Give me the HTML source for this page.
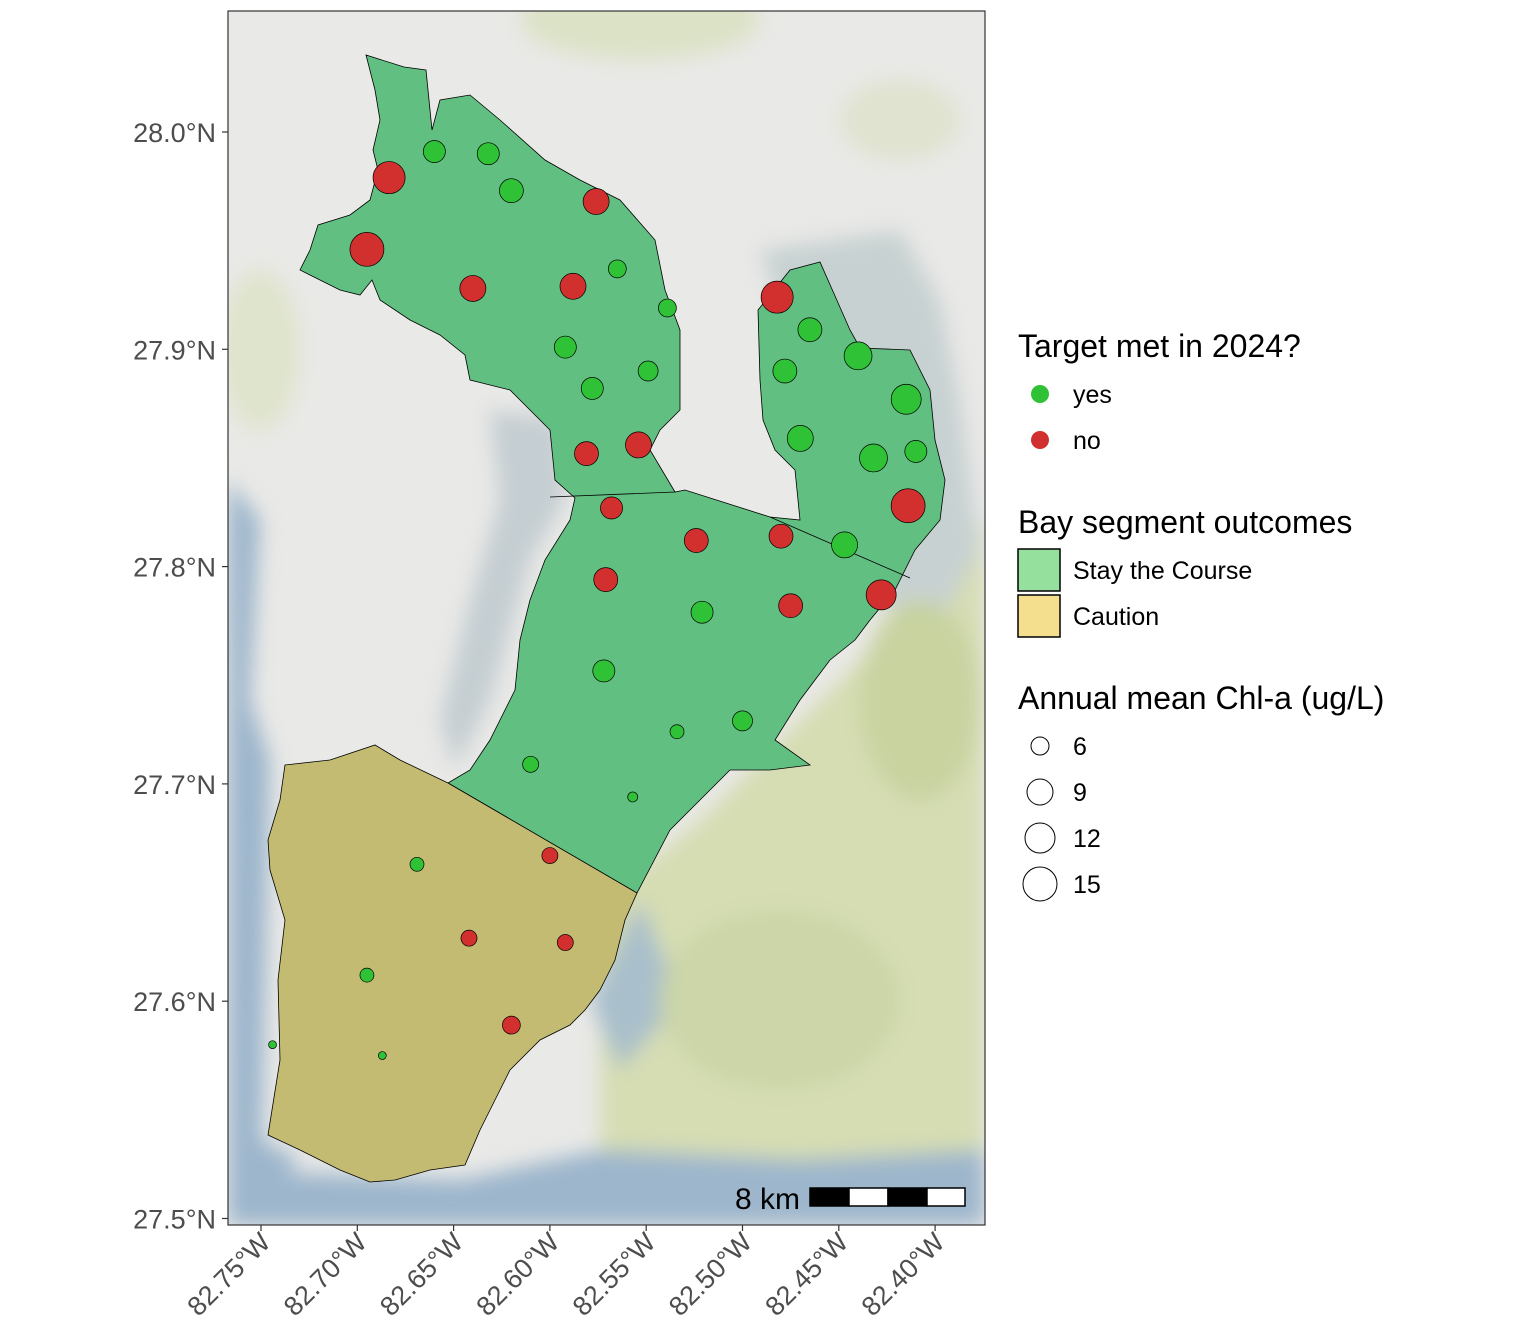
<!DOCTYPE html>
<html><head><meta charset="utf-8"><style>
html,body{margin:0;padding:0;background:#fff;}
svg{display:block;font-family:"Liberation Sans",sans-serif;}
</style></head><body>
<svg id="chart" width="1536" height="1344" viewBox="0 0 1536 1344" xmlns="http://www.w3.org/2000/svg">
<defs>
<clipPath id="pc"><rect x="228" y="11" width="757" height="1214"/></clipPath>
<filter id="bl"><feGaussianBlur stdDeviation="10"/></filter>
</defs>
<g clip-path="url(#pc)">
<rect x="228" y="11" width="757" height="1214" fill="#e9e9e7"/>
<g filter="url(#bl)">
<path d="M600,1225 L600,900 L700,820 L800,720 L880,640 L960,560 L985,520 L985,1225 Z" fill="#d6ddb3"/>
<path d="M228,480 L260,520 L250,700 L270,760 L262,1140 L300,1160 L228,1225 Z" fill="#9db6cc"/>
<path d="M228,1225 L228,1170 L460,1180 L600,1150 L800,1160 L985,1150 L985,1225 Z" fill="#9db6cc"/>
<path d="M490,410 L560,420 L565,500 L530,560 L490,700 L455,770 L440,720 L470,600 L500,500 Z" fill="#c5ced2"/>
<path d="M760,250 L900,230 L940,300 L960,400 L980,550 L930,640 L880,600 Z" fill="#c8d1d2"/>
<path d="M590,1000 L640,900 L680,1000 L620,1070 Z" fill="#a9bfcb"/>
<ellipse cx="640" cy="20" rx="120" ry="40" fill="#dce2c6"/>
<ellipse cx="260" cy="350" rx="40" ry="80" fill="#dfe4cc"/>
<ellipse cx="900" cy="120" rx="60" ry="40" fill="#dfe3cf"/>
<ellipse cx="920" cy="700" rx="60" ry="100" fill="#c8d3a0"/>
<ellipse cx="780" cy="1000" rx="120" ry="90" fill="#ccd6a8"/>
</g>
<path d="M366,55 L404,67 L426,70 L432,130 L440,100 L470,95 L500,120 L545,160 L580,180 L620,200 L655,240 L665,290 L680,330 L680,410 L660,430 L650,450 L675,492 L685,490 L770,517 L800,520 L795,470 L775,450 L763,420 L760,380 L758,310 L790,270 L820,262 L850,330 L860,348 L910,350 L930,390 L935,440 L945,480 L940,520 L915,550 L895,590 L870,620 L855,640 L830,660 L800,700 L775,740 L810,765 L770,770 L730,770 L700,800 L670,830 L637,893 L448,783 L470,770 L490,740 L515,690 L520,640 L530,600 L545,560 L570,520 L575,498 L555,480 L550,430 L530,410 L510,390 L470,380 L465,355 L440,335 L410,320 L380,300 L372,280 L360,295 L340,290 L310,275 L300,270 L310,250 L318,225 L350,215 L370,200 L378,170 L373,150 L380,120 L375,90 Z" fill="#62bf82" stroke="#000" stroke-width="0.8"/>
<path d="M550,497 L675,492 M770,517 L910,578" stroke="#000" stroke-width="0.8" fill="none"/>
<path d="M285,765 L330,760 L375,745 L400,760 L448,783 L637,893 L625,920 L615,960 L600,990 L585,1010 L570,1025 L540,1040 L510,1070 L495,1100 L480,1130 L465,1165 L430,1170 L395,1180 L370,1182 L340,1170 L300,1150 L268,1135 L280,1060 L278,980 L285,920 L270,870 L268,840 L280,800 Z" fill="#c4bb72" stroke="#000" stroke-width="0.8"/>
<g id="points"></g>
<text x="800" y="1209" font-size="30" text-anchor="end" fill="#000">8 km</text>
<g stroke="#000" stroke-width="1.5">
<rect x="810" y="1188" width="39" height="18" fill="#000"/><rect x="849" y="1188" width="39" height="18" fill="#fff"/>
<rect x="888" y="1188" width="39" height="18" fill="#000"/><rect x="927" y="1188" width="38" height="18" fill="#fff"/>
</g>
</g>
<rect x="228" y="11" width="757" height="1214" fill="none" stroke="#333" stroke-width="1.2"/>
<g id="axes"></g>
<g font-size="25" fill="#000">
<text x="1018" y="357" font-size="32">Target met in 2024?</text>
<circle cx="1040" cy="394" r="9" fill="#2fc136"/>
<text x="1073" y="403">yes</text>
<circle cx="1040" cy="440" r="9" fill="#d1302f"/>
<text x="1073" y="449">no</text>
<text x="1018" y="533" font-size="32">Bay segment outcomes</text>
<rect x="1018" y="549" width="42" height="42" fill="#94e09c" stroke="#000" stroke-width="1.5"/>
<text x="1073" y="579">Stay the Course</text>
<rect x="1018" y="595" width="42" height="42" fill="#f3df8e" stroke="#000" stroke-width="1.5"/>
<text x="1073" y="625">Caution</text>
<text x="1018" y="709" font-size="32">Annual mean Chl-a (ug/L)</text>
<g fill="#fff" stroke="#000" stroke-width="1">
<circle cx="1040" cy="746" r="9"/><circle cx="1040" cy="792" r="13"/><circle cx="1040" cy="838" r="15"/><circle cx="1040" cy="884" r="17"/>
</g>
<text x="1073" y="755">6</text><text x="1073" y="801">9</text><text x="1073" y="847">12</text><text x="1073" y="893">15</text>
</g>
</svg>
<script>
const lons=[-82.6835,-82.660,-82.632,-82.620,-82.576,-82.695,-82.640,-82.588,-82.565,-82.539,-82.592,-82.578,-82.549,-82.581,-82.554,-82.482,-82.465,-82.440,-82.478,-82.415,-82.470,-82.432,-82.410,-82.414,-82.568,-82.524,-82.480,-82.447,-82.571,-82.521,-82.475,-82.428,-82.572,-82.500,-82.534,-82.610,-82.557,-82.669,-82.600,-82.642,-82.592,-82.695,-82.620,-82.744,-82.687];
const lats=[27.979,27.991,27.990,27.973,27.968,27.946,27.928,27.929,27.937,27.919,27.901,27.882,27.890,27.852,27.856,27.924,27.909,27.897,27.890,27.877,27.859,27.850,27.853,27.828,27.827,27.812,27.814,27.810,27.794,27.779,27.782,27.787,27.752,27.729,27.724,27.709,27.694,27.663,27.667,27.629,27.627,27.612,27.589,27.580,27.575];
const chl=[14,8.7,8.7,9.7,10.8,15,10.8,10.8,6.5,6.5,8.7,8.7,7.6,9.7,10.8,14,9.7,11.8,9.7,12.9,10.8,11.8,8.7,15,8.7,9.7,9.7,10.8,9.7,8.7,9.7,12.9,8.7,7.6,4.4,5.5,2.3,4.4,5.5,5.5,5.5,4.4,6.5,1.2,1.2];
const met=["no","yes","yes","yes","no","no","no","no","yes","yes","yes","yes","yes","no","no","no","yes","yes","yes","yes","yes","yes","yes","no","no","no","no","yes","no","yes","no","no","yes","yes","yes","yes","yes","yes","no","no","no","yes","no","yes","yes"];
const latTicks=[28.0,27.9,27.8,27.7,27.6,27.5];
const latLabels=["28.0°N","27.9°N","27.8°N","27.7°N","27.6°N","27.5°N"];
const lonTicks=[-82.75,-82.70,-82.65,-82.60,-82.55,-82.50,-82.45,-82.40];
const lonLabels=["82.75°W","82.70°W","82.65°W","82.60°W","82.55°W","82.50°W","82.45°W","82.40°W"];
const NS="http://www.w3.org/2000/svg";
const xS=lon=>261+(lon+82.75)*(96.3/0.05);
const yS=lat=>132+(28.0-lat)*(217.3/0.1);
const rS=c=>2.83+0.944*c;
const pg=document.getElementById('points');
for(let i=0;i<lons.length;i++){
  const c=document.createElementNS(NS,'circle');
  c.setAttribute('cx',xS(lons[i]));c.setAttribute('cy',yS(lats[i]));c.setAttribute('r',rS(chl[i]));
  c.setAttribute('fill',met[i]==='yes'?'#2fc136':'#d1302f');
  c.setAttribute('stroke','#000');c.setAttribute('stroke-width','0.7');
  
  
  pg.appendChild(c);
}
const ax=document.getElementById('axes');
latTicks.forEach((v,i)=>{
  const y=yS(v);
  const l=document.createElementNS(NS,'line');
  l.setAttribute('x1',222);l.setAttribute('x2',228);l.setAttribute('y1',y);l.setAttribute('y2',y);l.setAttribute('stroke','#333');l.setAttribute('stroke-width','1.2');
  
  
  ax.appendChild(l);
  const t=document.createElementNS(NS,'text');
  t.setAttribute('x',216);t.setAttribute('y',y+10);t.setAttribute('text-anchor','end');t.setAttribute('font-size','27');t.setAttribute('fill','#4d4d4d');
  t.textContent=latLabels[i];
  
  
  ax.appendChild(t);
});
lonTicks.forEach((v,i)=>{
  const x=xS(v);
  const l=document.createElementNS(NS,'line');
  l.setAttribute('x1',x);l.setAttribute('x2',x);l.setAttribute('y1',1225);l.setAttribute('y2',1231);l.setAttribute('stroke','#333');l.setAttribute('stroke-width','1.2');
  
  
  ax.appendChild(l);
  const t=document.createElementNS(NS,'text');
  t.setAttribute('transform','translate('+(x+11)+',1244) rotate(-45)');
  t.setAttribute('text-anchor','end');t.setAttribute('font-size','27');t.setAttribute('fill','#4d4d4d');
  t.textContent=lonLabels[i];
  
  
  ax.appendChild(t);
});
</script>
</body></html>
